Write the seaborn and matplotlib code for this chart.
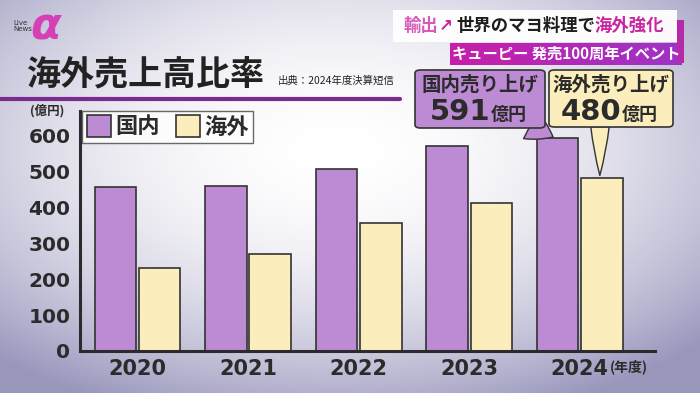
import numpy as np
import pandas as pd
import matplotlib
matplotlib.use("Agg")
import matplotlib.pyplot as plt
from matplotlib.patches import FancyBboxPatch
import seaborn as sns

# データ（億円）
years = ["2020", "2021", "2022", "2023", "2024"]
domestic = [455, 459, 505, 570, 591]
overseas = [230, 270, 356, 410, 480]
series_names = ["国内", "海外"]
yticks = [0, 100, 200, 300, 400, 500, 600]

PURPLE = "#BD8BD3"
YELLOW = "#FCEEBC"
DARK = "#2b2b2b"
MAGENTA = "#C8279F"
CJK = ["Noto Sans CJK JP", "DejaVu Sans"]

sns.set_theme(style="white")
plt.rcParams["font.family"] = CJK

df = pd.DataFrame({
    "年度": years * 2,
    "売上": domestic + overseas,
    "区分": [series_names[0]] * len(years) + [series_names[1]] * len(years),
})

fig = plt.figure(figsize=(7, 3.93), dpi=100)
W, H = 700, 393

# 背景グラデーション
bg = fig.add_axes([0, 0, 1, 1], zorder=-10)
gx, gy = np.meshgrid(np.linspace(0, 1, 350), np.linspace(0, 1, 200))
d = np.sqrt(((gx - 0.48) / 0.72) ** 2 + ((gy - 0.38) / 0.72) ** 2)
d = np.clip(d, 0, 1) ** 2.0
c0 = np.array([1.0, 1.0, 1.0])
c1 = np.array([0.60, 0.59, 0.74])
img = c0[None, None, :] * (1 - d[..., None]) + c1[None, None, :] * d[..., None]
bg.imshow(img, aspect="auto", extent=[0, 1, 0, 1])
bg.axis("off")

ax = fig.add_axes([80 / W, 1 - 351 / H, 575 / W, 240 / H])
ax.patch.set_alpha(0)
sns.barplot(data=df, x="年度", y="売上", hue="区分", palette=[PURPLE, YELLOW],
            saturation=1, width=0.8, gap=0.06, edgecolor="#333333", linewidth=1.2, ax=ax)

ax.set_xlim(-0.52, 4.68)
ax.set_ylim(0, 667)
ax.set_yticks(yticks)
ax.set_xlabel("")
ax.set_ylabel("")
for s in ["top", "right"]:
    ax.spines[s].set_visible(False)
for s in ["left", "bottom"]:
    ax.spines[s].set_color(DARK)
    ax.spines[s].set_linewidth(2.2)
ax.tick_params(axis="y", length=6, width=2, color=DARK, direction="out", pad=1)
ax.tick_params(axis="x", length=0, pad=6)
for t in ax.get_yticklabels():
    t.set_fontfamily("DejaVu Sans")
    t.set_fontweight("bold")
    t.set_fontsize(14.5)
    t.set_color(DARK)
for t in ax.get_xticklabels():
    t.set_fontfamily("DejaVu Sans")
    t.set_fontweight("bold")
    t.set_fontsize(15)
    t.set_color(DARK)

leg = ax.legend(loc="upper left", bbox_to_anchor=(0.0, 1.01), ncol=2, frameon=True,
                fancybox=False, edgecolor="#444444", fontsize=16, handlelength=1.1,
                handleheight=1.1, handletextpad=0.2, columnspacing=0.7,
                borderpad=0.2, borderaxespad=0.1)
leg.get_frame().set_linewidth(1.0)
leg.get_frame().set_facecolor("white")
for t in leg.get_texts():
    t.set_fontweight("bold")
    t.set_color(DARK)

# 単位
fig.text(47 / W, 1 - 111 / H, "(億円)", fontsize=9, fontweight="bold",
         color=DARK, ha="center", va="center")
fig.text(610 / W, 1 - 367 / H, "(年度)", fontsize=10, fontweight="bold",
         color=DARK, ha="left", va="center")

# 見出し
fig.text(27 / W, 1 - 74 / H, "海外売上高比率", fontsize=24.5, fontweight="bold",
         color="#222222", ha="left", va="center")
fig.text(278 / W, 1 - 81 / H, "出典：2024年度決算短信", fontsize=7.5,
         color="#222222", ha="left", va="center")
fig.add_artist(plt.Line2D([0, 400 / W], [1 - 99 / H, 1 - 99 / H],
                          color="#7B2A8E", linewidth=3))

# ロゴ
fig.text(46 / W, 1 - 27 / H, "α", fontsize=32, fontweight="bold", color="#D63FB5",
         ha="center", va="center", family=["DejaVu Sans"], fontstyle="italic")
fig.text(13 / W, 1 - 26 / H, "Live\nNews", fontsize=5, color="#333333",
         ha="left", va="center", linespacing=0.9, family=["DejaVu Sans"])

# 右上バナー
fig.add_artist(FancyBboxPatch((393 / W, 1 - 42 / H), 284 / W, 32 / H,
                              boxstyle="square,pad=0", fc="white", ec="none",
                              alpha=0.95, transform=fig.transFigure))
fig.add_artist(FancyBboxPatch((677 / W, 1 - 63 / H), 7 / W, 43 / H,
                              boxstyle="square,pad=0", fc="#B52AA8", ec="none",
                              transform=fig.transFigure))
fig.text(403 / W, 1 - 26 / H, "輸出", fontsize=12.5, fontweight="bold", color="#D45BB8",
         ha="left", va="center")
fig.text(439 / W, 1 - 26 / H, "↗", fontsize=12, fontweight="bold", color="#C8279F",
         ha="left", va="center", family=["DejaVu Sans"])
fig.text(456 / W, 1 - 26 / H, "世界のマヨ料理で", fontsize=12.5, fontweight="bold",
         color="#1e1e1e", ha="left", va="center")
fig.text(594 / W, 1 - 26 / H, "海外強化", fontsize=12.5, fontweight="bold",
         color=MAGENTA, ha="left", va="center")

bx = fig.add_axes([450 / W, 1 - 65 / H, 232 / W, 22 / H])
grad = np.linspace(0, 1, 200)
cA = np.array([0.78, 0.12, 0.66])
cB = np.array([0.62, 0.20, 0.78])
gimg = cA[None, :] * (1 - grad[:, None]) + cB[None, :] * grad[:, None]
bx.imshow(gimg[None, :, :], aspect="auto", extent=[0, 1, 0, 1])
bx.axis("off")
fig.text(566 / W, 1 - 54 / H, "キューピー 発売100周年イベント", fontsize=11,
         fontweight="bold", color="white", ha="center", va="center")

# 吹き出し（2024年の棒の上端を指す）
dom_bar = ax.containers[0][4]
ovs_bar = ax.containers[1][4]
dom_tip = (dom_bar.get_x() + dom_bar.get_width() * 0.45, dom_bar.get_height())
ovs_tip = (ovs_bar.get_x() + ovs_bar.get_width() * 0.45, ovs_bar.get_height())

callouts = [
    (415, 70, 130, 58, PURPLE, dom_tip, (528 / W, 1 - 124 / H), 1.8, "国内売り上げ", domestic[-1]),
    (549, 70, 124, 57, YELLOW, ovs_tip, (600 / W, 1 - 124 / H), 1.1, "海外売り上げ", overseas[-1]),
]
for x0, y0, w, h, fc, tip, base, tw, label, val in callouts:
    ax.annotate("", xy=tip, xycoords="data", xytext=base, textcoords="figure fraction",
                arrowprops=dict(arrowstyle=f"wedge,tail_width={tw},shrink_factor=0.6",
                                fc=fc, ec="#333333", lw=1.0),
                annotation_clip=False, zorder=5)
    fig.add_artist(FancyBboxPatch((x0 / W, 1 - (y0 + h) / H), w / W, h / H,
                                  boxstyle="round,pad=0,rounding_size=0.008",
                                  fc=fc, ec="#333333", lw=1.2,
                                  transform=fig.transFigure, zorder=6))
    cx = (x0 + w / 2) / W
    fig.text(cx, 1 - (y0 + 15) / H, label, fontsize=14, fontweight="bold",
             color=DARK, ha="center", va="center", zorder=7)
    fig.text(cx + 10 / W, 1 - (y0 + 42) / H, f"{val}", fontsize=21, fontweight="bold",
             color=DARK, ha="right", va="center", family=["DejaVu Sans"], zorder=7)
    fig.text(cx + 11 / W, 1 - (y0 + 44) / H, "億円", fontsize=13, fontweight="bold",
             color=DARK, ha="left", va="center", zorder=7)

fig.savefig("out.png", dpi=100)
